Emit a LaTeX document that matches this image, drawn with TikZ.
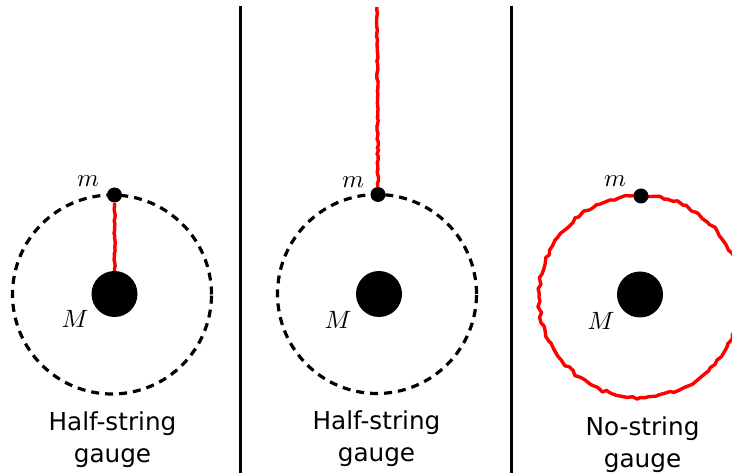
\documentclass[tikz,border=0pt]{standalone}
\usepackage{graphicx}
\usepackage{fontspec}
\setmainfont{DejaVu Sans}
\usetikzlibrary{decorations.pathmorphing}
\newcommand{\biglab}[1]{\scalebox{2.5}{$#1$}}
\begin{document}
\begin{tikzpicture}[x=1pt,y=-1pt,
  orbit/.style={circle, draw=black, line width=3.2pt, dash pattern=on 8pt off 6pt, minimum size=199pt, inner sep=0pt},
  heavy/.style={circle, fill=black, minimum size=46pt, inner sep=0pt},
  light/.style={circle, fill=black, minimum size=15pt, inner sep=0pt},
  stringline/.style={draw=red, line width=3.4pt, decorate, decoration={random steps, segment length=3pt, amplitude=0.7pt}},
  wavy/.style={draw=red, line width=3.4pt, line join=round, decorate, decoration={random steps, segment length=5pt, amplitude=1.5pt}},
  lab/.style={inner sep=0pt},
  caption/.style={font=\fontsize{24.7}{31.5}\selectfont, align=center, inner sep=0pt, anchor=north},
  divider/.style={draw=black, line width=2.3pt}]
\pgfmathsetseed{7}
\useasboundingbox (0,0) rectangle (732,473);
\clip (0,0) rectangle (732,473);

% dividers
\coordinate (d1t) at (240.5,6);
\coordinate (d1b) at (240.5,473);
\coordinate (d2t) at (511.5,6);
\coordinate (d2b) at (511.5,473);
\draw[divider] (d1t) -- (d1b);
\draw[divider] (d2t) -- (d2b);

% panel 1
\node[orbit] (o1) at (112,294.5) {};
\node[heavy] (M1) at (114.5,294) {};
\node[light] (m1) at (114.5,195) {};
\draw[stringline] (m1) -- (M1);
\node[lab] (lm1) at (88,181) {\biglab{m}};
\node[lab] (lM1) at (75,319) {\biglab{M}};
\node[caption] (c1) at (112.5,412) {Half-string\\gauge};

% panel 2
\node[orbit] (o2) at (377,294) {};
\node[heavy] (M2) at (379,294) {};
\node[light] (m2) at (378,194.5) {};
\coordinate (top2) at (377,7);
\draw[stringline] (m2) -- (top2);
\node[lab] (lm2) at (353,182) {\biglab{m}};
\node[lab] (lM2) at (338,320) {\biglab{M}};
\node[caption] (c2) at (376.5,411) {Half-string\\gauge};

% panel 3
\coordinate (o3) at (640,296.5);
\draw[wavy] (o3) circle (101pt);
\node[heavy] (M3) at (640,294.5) {};
\node[light] (m3) at (641,196) {};
\node[lab] (lm3) at (615,181) {\biglab{m}};
\node[lab] (lM3) at (601,321) {\biglab{M}};
\node[caption] (c3) at (642.5,417) {No-string\\gauge};
\end{tikzpicture}
\end{document}
